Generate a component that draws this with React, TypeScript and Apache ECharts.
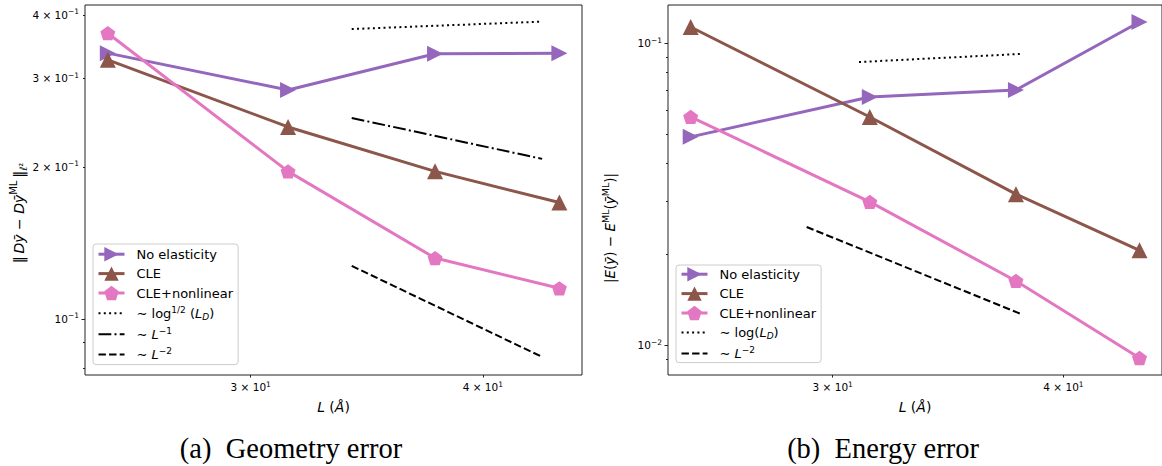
import React, { useEffect, useRef } from 'react';
import * as echarts from 'echarts';

// System size L (Å)
const lengths = [25.13, 31.42, 37.7, 43.98];

// (a) Geometry error
const geomNoElasticity = [0.336, 0.284, 0.335, 0.336];
const geomCLE = [0.326, 0.24, 0.196, 0.17];
const geomCLENonlinear = [0.368, 0.196, 0.132, 0.115];
const geomRefL = [34.0, 43.05];
const geomRefLogHalf = [0.375, 0.388];
const geomRefInvL = [0.25, 0.2075];
const geomRefInvL2 = [0.1274, 0.0841];

// (b) Energy error
const energyNoElasticity = [0.0489, 0.0663, 0.0699, 0.1174];
const energyCLE = [0.113, 0.0569, 0.0316, 0.0206];
const energyCLENonlinear = [0.0569, 0.0298, 0.0163, 0.00906];
const energyRefLogL = [31.0, 37.93];
const energyRefLog = [0.0865, 0.092];
const energyRefInvL2L = [29.04, 37.93];
const energyRefInvL2 = [0.0246, 0.01268];

// Axes
const xRange = [24.43, 45.23];
const xTicks = [30, 40];
const geomYRange = [0.07745, 0.4185];
const geomYMajor = [0.1];
const geomYMinor = [0.08, 0.09, 0.2, 0.3, 0.4];
const geomYLabels = [0.1, 0.2, 0.3, 0.4];
const energyYRange = [0.00796, 0.1336];
const energyYMajor = [0.01, 0.1];
const energyYMinor = [0.009, 0.02, 0.03, 0.04, 0.05, 0.06, 0.07, 0.08, 0.09];
const energyYLabels = [0.01, 0.1];

const PURPLE = '#9467bd';
const BROWN = '#8c564b';
const PINK = '#e377c2';
const SANS = "'DejaVu Sans', sans-serif";
const PENTAGON = 'path://M0,-1L0.9511,-0.309L0.5878,0.809L-0.5878,0.809L-0.9511,-0.309Z';

const pairs = (xs: number[], ys: number[]) => xs.map((x, i) => [x, ys[i]]);

function logLabel(v: number) {
  const e = Math.floor(Math.log10(v) + 1e-9);
  const m = Math.round(v / Math.pow(10, e));
  const es = e < 0 ? '\u2212' + Math.abs(e) : String(e);
  return m === 1 ? `{b|10}{s|${es}}` : `{b|${m} \u00d7 10}{s|${es}}`;
}

const tickRich = {
  b: { fontSize: 10.5, lineHeight: 14, fontFamily: SANS, color: '#000' },
  s: { fontSize: 7.5, lineHeight: 6, verticalAlign: 'top', fontFamily: SANS, color: '#000' },
};

function makeNameRich(size: number, supSize: number) {
  return {
    n: { fontSize: size, lineHeight: 20, fontFamily: SANS, color: '#000' },
    i: { fontSize: size, lineHeight: 20, fontFamily: SANS, fontStyle: 'italic', color: '#000' },
    sup: { fontSize: supSize, lineHeight: 10, verticalAlign: 'top', fontFamily: SANS, color: '#000' },
    sub: { fontSize: supSize, lineHeight: 10, verticalAlign: 'bottom', fontFamily: SANS, color: '#000' },
  };
}

const xNameRich = {
  n: { fontSize: 14, lineHeight: 18, fontFamily: SANS, color: '#000' },
  i: { fontSize: 14, lineHeight: 18, fontFamily: SANS, fontStyle: 'italic', color: '#000' },
};

const legendRich = {
  f: { fontSize: 13, lineHeight: 16, fontFamily: SANS, color: '#000', padding: [0, 0, 0, 7] },
  t: { fontSize: 13, lineHeight: 16, fontFamily: SANS, color: '#000' },
  i: { fontSize: 13, lineHeight: 16, fontFamily: SANS, fontStyle: 'italic', color: '#000' },
  s: { fontSize: 9, lineHeight: 8, verticalAlign: 'top', fontFamily: SANS, color: '#000' },
  d: { fontSize: 9, lineHeight: 8, verticalAlign: 'bottom', fontFamily: SANS, fontStyle: 'italic', color: '#000' },
};

const legendLabels: Record<string, string> = {
  'No elasticity': '{f|No elasticity}',
  CLE: '{f|CLE}',
  'CLE+nonlinear': '{f|CLE+nonlinear}',
  refLogHalf: '{f|\u223c log}{s|1/2}{t| (}{i|L}{d|D}{t|)}',
  refInvL: '{f|\u223c }{i|L}{s|\u22121}',
  refInvL2: '{f|\u223c }{i|L}{s|\u22122}',
  refLog: '{f|\u223c log(}{i|L}{d|D}{t|)}',
  refInvL2b: '{f|\u223c }{i|L}{s|\u22122}',
};

function dataSeries(name: string, yAxisIndex: number, xAxisIndex: number, ys: number[], color: string, symbol: string, size: number | number[], rotate = 0) {
  return {
    type: 'line',
    name,
    xAxisIndex,
    yAxisIndex,
    data: pairs(lengths, ys),
    symbol,
    symbolSize: size,
    symbolRotate: rotate,
    showSymbol: true,
    lineStyle: { width: 3, color },
    itemStyle: { color },
    emphasis: { disabled: true },
    z: 3,
  };
}

function refSeries(name: string, yAxisIndex: number, xAxisIndex: number, xs: number[], ys: number[], dash: number[]) {
  return {
    type: 'line',
    name,
    xAxisIndex,
    yAxisIndex,
    data: pairs(xs, ys),
    symbol: 'none',
    lineStyle: { width: 2, color: '#000', type: dash, cap: 'butt' },
    itemStyle: { color: '#000' },
    emphasis: { disabled: true },
    z: 4,
  };
}

const DOTTED = [2, 3.3];
const DASHDOT = [12.8, 3.2, 2, 3.2];
const DASHED = [7.4, 3.2];

function xAxisDef(gridIndex: number) {
  return {
    type: 'log',
    gridIndex,
    min: xRange[0],
    max: xRange[1],
    axisLine: { show: false },
    splitLine: { show: false },
    axisTick: { show: true, length: 2.5, customValues: xTicks, lineStyle: { color: '#222', width: 1 } },
    axisLabel: { show: true, margin: 5, customValues: xTicks, formatter: logLabel, rich: tickRich },
    name: '{i|L}{n| (}{i|\u00c5}{n|)}',
    nameLocation: 'middle',
    nameGap: 23,
    nameTextStyle: { rich: xNameRich },
  };
}

function yAxisMain(gridIndex: number, range: number[], major: number[], labels: number[], name: string, nameGap: number, shift: number, rich: any) {
  return {
    type: 'log',
    gridIndex,
    position: 'left',
    min: range[0],
    max: range[1],
    axisLine: { show: false },
    splitLine: { show: false },
    axisTick: { show: true, length: 3.5, customValues: major, lineStyle: { color: '#222', width: 1 } },
    axisLabel: { show: true, margin: 6, customValues: labels, formatter: logLabel, rich: tickRich },
    name,
    nameLocation: 'middle',
    nameRotate: 90,
    nameGap,
    nameTextStyle: { rich, padding: [0, shift, 0, 0] },
  };
}

function yAxisMinor(gridIndex: number, range: number[], minor: number[]) {
  return {
    type: 'log',
    gridIndex,
    position: 'left',
    offset: 0,
    min: range[0],
    max: range[1],
    axisLine: { show: false },
    splitLine: { show: false },
    axisTick: { show: true, length: 2, customValues: minor, lineStyle: { color: '#222', width: 1 } },
    axisLabel: { show: false },
  };
}

function legendDef(left: number, top: number, names: string[], padding: number[]) {
  return {
    left,
    top,
    orient: 'vertical',
    itemWidth: 26,
    itemHeight: 18,
    itemGap: 5,
    padding,
    backgroundColor: 'rgba(255,255,255,0.8)',
    borderColor: '#cccccc',
    borderWidth: 1,
    borderRadius: 3,
    selectedMode: false,
    formatter: (n: string) => legendLabels[n] ?? n,
    textStyle: { rich: legendRich },
    data: names.map((n) =>
      n.startsWith('ref')
        ? { name: n, itemStyle: { opacity: 0 }, lineStyle: { width: 2 } }
        : { name: n, lineStyle: { width: 3 } }
    ),
  };
}

const TH = '\u2009';

export default function App() {
  const ref = useRef<HTMLDivElement>(null);
  useEffect(() => {
    document.body.style.margin = '0';
    document.body.style.overflow = 'hidden';
    const chart = echarts.init(ref.current!, null, { renderer: 'svg' });
    const option: any = {
      animation: false,
      backgroundColor: '#fff',
      textStyle: { fontFamily: SANS },
      grid: [
        { left: 85, top: 5, width: 497, height: 370, show: true, borderColor: '#222', borderWidth: 1, backgroundColor: '#fff' },
        { left: 668, top: 5, width: 497, height: 370, show: true, borderColor: '#222', borderWidth: 1, backgroundColor: '#fff' },
      ],
      xAxis: [xAxisDef(0), xAxisDef(1)],
      yAxis: [
        yAxisMain(0, geomYRange, geomYMajor, geomYLabels,
          `{n|\u2016${TH}}{i|D\u0233}{n| \u2212 }{i|D\u0233}{sup|ML}{n|${TH}\u2016}{sub|\u2113\u00b2}`, 56, 46, makeNameRich(14, 10)),
        yAxisMinor(0, geomYRange, geomYMinor),
        yAxisMain(1, energyYRange, energyYMajor, energyYLabels,
          `{n||}{i|E}{n|(}{i|\u0233}{n|) \u2212 }{i|E}{sup|ML}{n|(}{i|\u0233}{sup|ML}{n|)|}`, 48, 76, makeNameRich(13.5, 9.5)),
        yAxisMinor(1, energyYRange, energyYMinor),
      ],
      legend: [
        legendDef(93, 244, ['No elasticity', 'CLE', 'CLE+nonlinear', 'refLogHalf', 'refInvL', 'refInvL2'], [3, 5, 3, 4]),
        legendDef(676, 265, ['No elasticity', 'CLE', 'CLE+nonlinear', 'refLog', 'refInvL2b'], [2, 5, 2, 4]),
      ],
      series: [
        dataSeries('No elasticity', 0, 0, geomNoElasticity, PURPLE, 'triangle', 16, -90),
        dataSeries('CLE', 0, 0, geomCLE, BROWN, 'triangle', 16),
        dataSeries('CLE+nonlinear', 0, 0, geomCLENonlinear, PINK, PENTAGON, [15, 14.3]),
        refSeries('refLogHalf', 0, 0, geomRefL, geomRefLogHalf, DOTTED),
        refSeries('refInvL', 0, 0, geomRefL, geomRefInvL, DASHDOT),
        refSeries('refInvL2', 0, 0, geomRefL, geomRefInvL2, DASHED),
        dataSeries('No elasticity', 2, 1, energyNoElasticity, PURPLE, 'triangle', 16, -90),
        dataSeries('CLE', 2, 1, energyCLE, BROWN, 'triangle', 16),
        dataSeries('CLE+nonlinear', 2, 1, energyCLENonlinear, PINK, PENTAGON, [15, 14.3]),
        refSeries('refLog', 2, 1, energyRefLogL, energyRefLog, DOTTED),
        refSeries('refInvL2b', 2, 1, energyRefInvL2L, energyRefInvL2, DASHED),
      ],
      graphic: [
        {
          type: 'text',
          x: 291,
          y: 448,
          style: { text: '(a)  Geometry error', fontSize: 28.5, fontFamily: "'Liberation Serif', serif", fill: '#000', align: 'center', verticalAlign: 'middle' },
        },
        {
          type: 'text',
          x: 883,
          y: 448,
          style: { text: '(b)  Energy error', fontSize: 28.5, fontFamily: "'Liberation Serif', serif", fill: '#000', align: 'center', verticalAlign: 'middle' },
        },
      ],
    };
    chart.setOption(option);
    return () => chart.dispose();
  }, []);
  return <div ref={ref} style={{ width: 1162, height: 466 }} />;
}
